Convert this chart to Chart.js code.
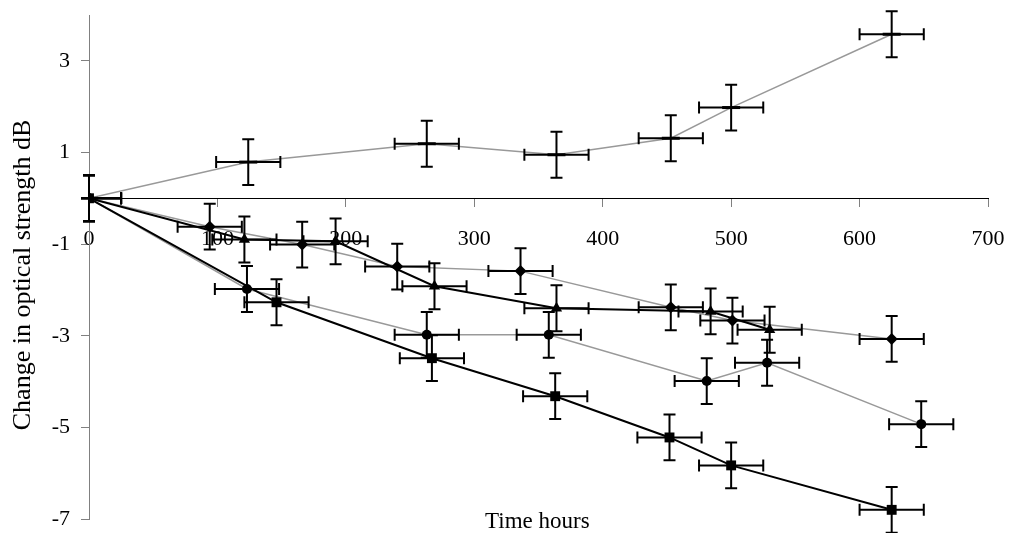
<!DOCTYPE html>
<html>
<head>
<meta charset="utf-8">
<title>Change in optical strength</title>
<script src="https://cdn.jsdelivr.net/npm/chart.js@4.4.1/dist/chart.umd.min.js"></script>
<style>
    html, body { margin: 0; padding: 0; background: #ffffff; }
    #wrap { width: 1009px; height: 533px; }
</style>
</head>
<body>
<div id="wrap"><canvas id="myChart" width="1009" height="533"></canvas></div>
<script>
// tick values
const xTicks = [0, 100, 200, 300, 400, 500, 600, 700];
const yTicks = [-7, -5, -3, -1, 1, 3];

const xTitle = "Time hours";
const yTitle = "Change in optical strength dB";

// series (hours, dB)
const squareHours = [0, 146, 267, 363, 452, 500, 625];
const squareChange = [0, -2.27, -3.49, -4.32, -5.22, -5.83, -6.8];

const triangleHours = [0, 121, 192, 269, 364, 484, 530];
const triangleChange = [0, -0.9, -0.94, -1.92, -2.4, -2.47, -2.87];

const diamondHours = [0, 94, 166, 240, 336, 453, 501, 625];
const diamondChange = [0, -0.62, -1.01, -1.49, -1.59, -2.38, -2.67, -3.07];

const circleHours = [0, 123, 263, 358, 481, 528, 648];
const circleChange = [0, -1.98, -2.98, -2.98, -3.99, -3.59, -4.93];

const dashHours = [0, 124, 263, 364, 453, 500, 625];
const dashChange = [0, 0.79, 1.19, 0.95, 1.31, 1.98, 3.58];

// error bar half widths
const hourErr = 25;
const dbErr = 0.5;

const serif = "'Liberation Serif', 'Times New Roman', serif";
Chart.defaults.font.family = serif;
Chart.defaults.color = "#000000";

function points(xs, ys) {
    return xs.map((x, i) => ({ x: x, y: ys[i] }));
}

const errorBars = {
    id: "errorBars",
    afterDatasetsDraw(chart) {
        const { ctx, chartArea, scales } = chart;
        const xs = scales.x, ys = scales.y;
        const cap = 6;
        ctx.save();
        ctx.beginPath();
        ctx.rect(chartArea.left - 8, 0, chart.width, chart.height);
        ctx.clip();
        ctx.strokeStyle = "#000000";
        ctx.lineWidth = 2;
        chart.data.datasets.forEach(ds => {
            ds.data.forEach(p => {
                const px = xs.getPixelForValue(p.x);
                const py = ys.getPixelForValue(p.y);
                const xl = xs.getPixelForValue(p.x - hourErr);
                const xr = xs.getPixelForValue(p.x + hourErr);
                const yt = ys.getPixelForValue(p.y + dbErr);
                const yb = ys.getPixelForValue(p.y - dbErr);
                ctx.beginPath();
                ctx.moveTo(xl, py); ctx.lineTo(xr, py);
                ctx.moveTo(xl, py - cap); ctx.lineTo(xl, py + cap);
                ctx.moveTo(xr, py - cap); ctx.lineTo(xr, py + cap);
                ctx.moveTo(px, yt); ctx.lineTo(px, yb);
                ctx.moveTo(px - cap, yt); ctx.lineTo(px + cap, yt);
                ctx.moveTo(px - cap, yb); ctx.lineTo(px + cap, yb);
                ctx.stroke();
            });
        });
        ctx.restore();
    }
};

const axisTitles = {
    id: "axisTitles",
    afterDraw(chart) {
        const ctx = chart.ctx;
        ctx.save();
        ctx.fillStyle = "#000000";
        ctx.textBaseline = "alphabetic";
        ctx.textAlign = "left";
        ctx.font = "23px " + serif;
        ctx.fillText(xTitle, 485, 528);
        ctx.translate(30, 275);
        ctx.rotate(-Math.PI / 2);
        ctx.textAlign = "center";
        ctx.font = "26px " + serif;
        ctx.fillText(yTitle, 0, 0);
        ctx.restore();
    }
};

const gray = "#999999";

const datasets = [
    {
        label: "square",
        data: points(squareHours, squareChange),
        borderColor: "#000000", borderWidth: 2,
        pointStyle: "rect", pointRadius: 7,
        pointBackgroundColor: "#000000", pointBorderColor: "#000000", pointBorderWidth: 0
    },
    {
        label: "triangle",
        data: points(triangleHours, triangleChange),
        borderColor: "#000000", borderWidth: 2,
        pointStyle: "triangle", pointRadius: 6.5,
        pointBackgroundColor: "#000000", pointBorderColor: "#000000", pointBorderWidth: 0
    },
    {
        label: "diamond",
        data: points(diamondHours, diamondChange),
        borderColor: gray, borderWidth: 1.5,
        pointStyle: "rectRot", pointRadius: 6,
        pointBackgroundColor: "#000000", pointBorderColor: "#000000", pointBorderWidth: 0
    },
    {
        label: "circle",
        data: points(circleHours, circleChange),
        borderColor: gray, borderWidth: 1.5,
        pointStyle: "circle", pointRadius: 5,
        pointBackgroundColor: "#000000", pointBorderColor: "#000000", pointBorderWidth: 0
    },
    {
        label: "dash",
        data: points(dashHours, dashChange),
        borderColor: gray, borderWidth: 1.5,
        pointStyle: "line", pointRadius: 9,
        pointBackgroundColor: "#000000", pointBorderColor: "#000000", pointBorderWidth: 3
    }
];

const ctx = document.getElementById("myChart").getContext("2d");
new Chart(ctx, {
    type: "line",
    data: { datasets: datasets },
    plugins: [errorBars, axisTitles],
    options: {
        responsive: false,
        animation: false,
        events: [],
        layout: { padding: { left: 0, right: 21, top: 15, bottom: 14 } },
        elements: { line: { tension: 0, fill: false } },
        plugins: {
            legend: { display: false },
            tooltip: { enabled: false }
        },
        scales: {
            x: {
                type: "linear",
                position: { y: 0 },
                min: 0,
                max: 700,
                afterBuildTicks: scale => { scale.ticks = xTicks.map(v => ({ value: v })); },
                afterFit: scale => { scale.paddingLeft = 0; scale.paddingRight = 0; },
                grid: { drawOnChartArea: false, drawTicks: true, tickLength: 8, color: "#808080" },
                border: { color: "#000000", width: 1 },
                ticks: { font: { size: 22 }, padding: 20, maxRotation: 0, autoSkip: false },
                title: { display: false }
            },
            y: {
                type: "linear",
                position: "left",
                min: -7,
                max: 4,
                afterBuildTicks: scale => { scale.ticks = yTicks.map(v => ({ value: v })); },
                afterFit: scale => { scale.width = 89; scale.paddingTop = 0; scale.paddingBottom = 0; },
                grid: { drawOnChartArea: false, drawTicks: true, tickLength: 8, color: "#808080" },
                border: { color: "#808080", width: 1 },
                ticks: { font: { size: 22 }, padding: 11 },
                title: { display: false }
            }
        }
    }
});
</script>
</body>
</html>
